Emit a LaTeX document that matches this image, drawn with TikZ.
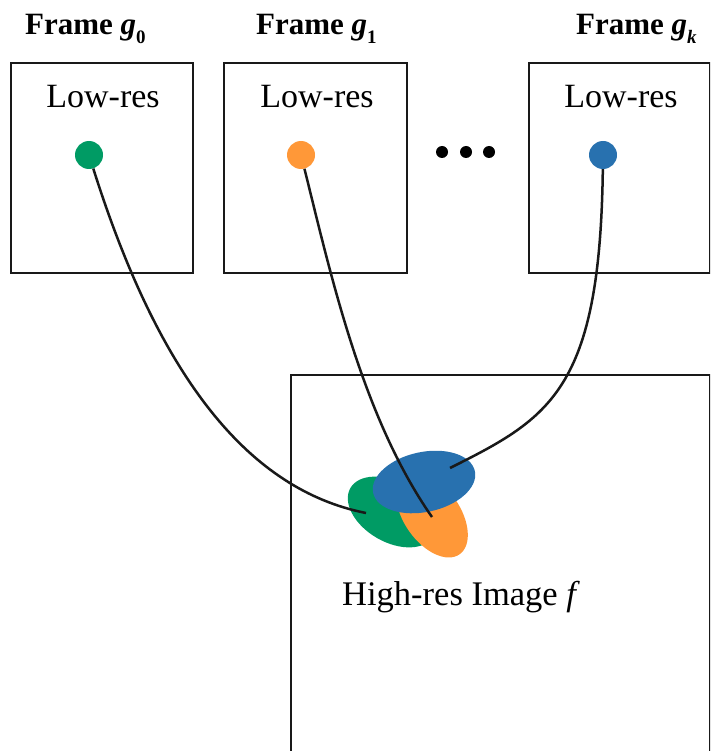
\documentclass[tikz,border=0pt]{standalone}
\usepackage{fontspec}
\setmainfont{Liberation Serif}
\usetikzlibrary{shapes.geometric}

\definecolor{ptgreen}{RGB}{0,155,100}
\definecolor{ptorange}{RGB}{255,152,56}
\definecolor{ptblue}{RGB}{40,113,175}

\tikzset{
  framebox/.style={draw=black!90, line width=2.8pt},
  pixeldot/.style={circle, inner sep=0pt, minimum size=28pt},
  blob/.style={ellipse, inner sep=0pt},
  link/.style={draw=black!90, line width=2.5pt},
  lowlabel/.style={anchor=base, inner sep=0pt, font=\fontsize{34}{36}\selectfont},
  framelabel/.style={anchor=base west, inner sep=0pt, font=\fontsize{31}{34}\selectfont\bfseries},
  etc/.style={circle, fill=black, inner sep=0pt, minimum size=12pt}
}

\newcommand{\framesub}[1]{\raisebox{-9pt}{\fontsize{19}{20}\selectfont #1}}

\begin{document}
\begin{tikzpicture}[x=1pt, y=-1pt]
  \useasboundingbox (0,0) rectangle (710,751);
  \clip (0,0) rectangle (710,751);

  % frame titles
  \node[framelabel] (t0) at (25,35) {Frame \textit{g}\framesub{0}};
  \node[framelabel] (t1) at (256,35) {Frame \textit{g}\framesub{1}};
  \node[framelabel] (tk) at (576,35) {Frame \textit{g}\framesub{\textit{k}}};

  % low-resolution frames
  \draw[framebox] (11,63) rectangle (193,273);
  \draw[framebox] (224,63) rectangle (407,273);
  \draw[framebox] (529,63) rectangle (710,273);
  \node[lowlabel] (l0) at (103,108) {Low-res};
  \node[lowlabel] (l1) at (317,108) {Low-res};
  \node[lowlabel] (lk) at (621,108) {Low-res};

  % ellipsis between the frames
  \node[etc] (e1) at (442,152) {};
  \node[etc] (e2) at (466,152) {};
  \node[etc] (e3) at (489,152) {};

  % high-resolution image
  \draw[framebox] (291,375) rectangle (710,800);
  \node[anchor=base west, inner sep=0pt, font=\fontsize{34.5}{38}\selectfont]
    (hr) at (342,605) {High-res Image \textit{f}};

  % footprints of the low-res pixels on the high-res grid
  \node[blob, fill=ptgreen, minimum width=96pt, minimum height=60pt, rotate=-30] (b0) at (392,512) {};
  \node[blob, fill=ptorange, minimum width=96pt, minimum height=56pt, rotate=-55] (b1) at (432,515) {};
  \node[blob, fill=ptblue, minimum width=104pt, minimum height=60pt, rotate=12] (bk) at (424,482) {};

  % sampled pixels
  \node[pixeldot, fill=ptgreen] (d0) at (89,155) {};
  \node[pixeldot, fill=ptorange] (d1) at (301,155) {};
  \node[pixeldot, fill=ptblue] (dk) at (603,155) {};

  % end points of the mappings
  \coordinate (c0) at (366,513);
  \coordinate (c1) at (432,517);
  \coordinate (ck) at (450,468);

  \draw[link] (d0) .. controls (160,380) and (250,490) .. (c0);
  \draw[link] (d1) .. controls (331,275) and (362,417) .. (c1);
  \draw[link] (dk) .. controls (600,390) and (550,418) .. (ck);
\end{tikzpicture}
\end{document}
